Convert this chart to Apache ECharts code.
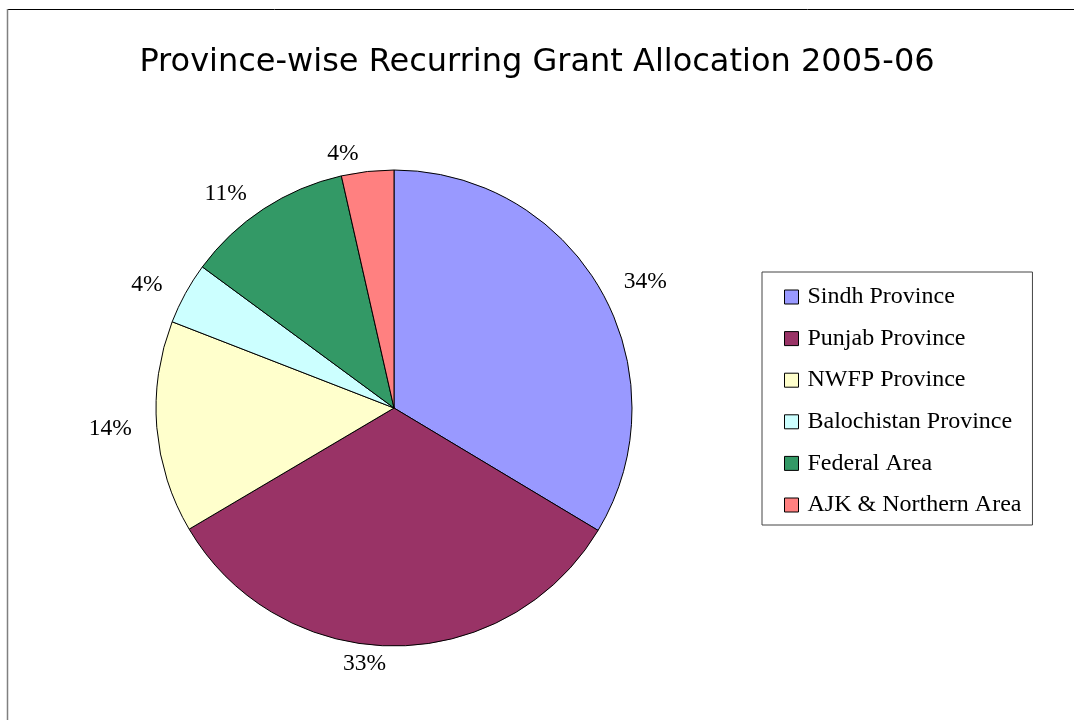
<!DOCTYPE html>
<html>
<head>
<meta charset="utf-8">
<script src="https://cdn.jsdelivr.net/npm/echarts@6/dist/echarts.min.js"></script>
<style>html,body{margin:0;padding:0;background:#fff}#c{width:1074px;height:720px}</style>
</head>
<body>
<div id="c"></div>
<script>
const titleText = 'Province-wise Recurring Grant Allocation 2005-06';
const categories = ['Sindh Province', 'Punjab Province', 'NWFP Province', 'Balochistan Province', 'Federal Area', 'AJK & Northern Area'];
const values = [33.6, 32.9, 14.4, 4.2, 11.35, 3.55];
const colors = ['#9999FF', '#993366', '#FFFFCC', '#CCFFFF', '#339966', '#FF8080'];

const chart = echarts.init(document.getElementById('c'));
chart.setOption({
  backgroundColor: '#fff',
  animation: false,
  title: {
    text: titleText,
    left: 'center',
    top: 42,
    textStyle: { fontFamily: 'DejaVu Sans', fontSize: 32, fontWeight: 'normal', color: '#000' }
  },
  graphic: [
    { type: 'line', shape: { x1: 8, y1: 9.5, x2: 1074, y2: 9.5 }, style: { stroke: '#000', lineWidth: 1 } },
    { type: 'line', shape: { x1: 7.5, y1: 9, x2: 7.5, y2: 720 }, style: { stroke: '#808080', lineWidth: 1.5 } }
  ],
  legend: {
    orient: 'vertical',
    left: 762,
    top: 272,
    padding: [13, 11, 8, 22],
    borderColor: '#444',
    borderWidth: 1,
    itemWidth: 14,
    itemHeight: 14,
    itemGap: 17.6,
    icon: 'rect',
    itemStyle: { borderColor: '#000', borderWidth: 1 },
    textStyle: { fontFamily: 'Liberation Serif', fontSize: 24, lineHeight: 24, color: '#000', padding: [0, 0, 0, 4] },
    data: categories
  },
  series: [{
    type: 'pie',
    center: [394, 408],
    radius: 238,
    startAngle: 90,
    clockwise: true,
    data: categories.map((n, i) => ({ name: n, value: values[i], itemStyle: { color: colors[i] } })),
    itemStyle: { borderColor: '#000', borderWidth: 1 },
    label: {
      show: true,
      position: 'outside',
      formatter: p => Math.round(p.percent) + '%',
      fontFamily: 'Liberation Serif',
      fontSize: 23.5,
      color: '#000'
    },
    labelLine: { show: false, length: 18, length2: 2 },
    emphasis: { disabled: true }
  }]
});
</script>
</body>
</html>
